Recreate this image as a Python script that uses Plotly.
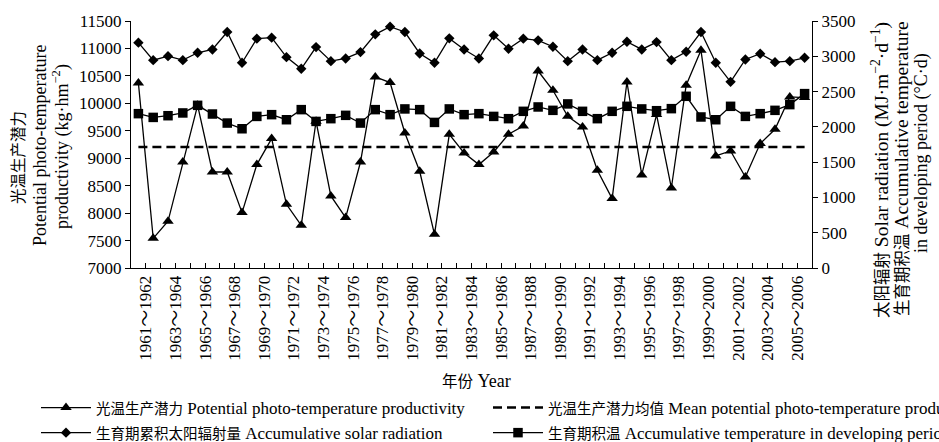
import plotly.graph_objects as go

# ---------------- data ----------------
years = list(range(1961, 2007))  # 46 yearly points

tick_labels = ["1961～1962", "1963～1964", "1965～1966", "1967～1968", "1969～1970",
               "1971～1972", "1973～1974", "1975～1976", "1977～1978", "1979～1980",
               "1981～1982", "1983～1984", "1985～1986", "1987～1988", "1989～1990",
               "1991～1992", "1993～1994", "1995～1996", "1997～1998", "1999～2000",
               "2001～2002", "2003～2004", "2005～2006"]

productivity = [10370, 7541, 7851, 8931, 9964, 8749, 8749, 8009, 8884, 9358,
                8161, 7778, 9673, 8312, 7918, 8931, 10480, 10378, 9460, 8762,
                7614, 9436, 9095, 8884, 9114, 9436, 9587, 10589, 10238, 9764,
                9569, 8780, 8264, 10389, 8695, 9795, 8458, 10329, 10966, 9041,
                9132, 8658, 9267, 9527, 10116, 10105]

mean_productivity = 9205

solar_radiation = [3193, 2945, 3002, 2945, 3050, 3097, 3344, 2908, 3250, 3264,
                   2988, 2823, 3130, 2931, 2969, 3059, 3311, 3420, 3344, 3040,
                   2908, 3254, 3097, 2969, 3297, 3107, 3250, 3226, 3136, 2931,
                   3097, 2945, 3050, 3207, 3097, 3201, 2945, 3064, 3344, 2908,
                   2638, 2955, 3036, 2917, 2931, 2979]

accum_temperature = [2187, 2134, 2158, 2197, 2305, 2182, 2054, 1973, 2148, 2173,
                     2101, 2244, 2077, 2116, 2163, 2054, 2244, 2173, 2254, 2244,
                     2063, 2254, 2173, 2187, 2148, 2116, 2220, 2282, 2234, 2325,
                     2220, 2116, 2220, 2291, 2254, 2229, 2258, 2433, 2140, 2101,
                     2291, 2148, 2187, 2234, 2315, 2471]

names = [
    '<span style="font-size:14.5px">光温生产潜力</span> Potential photo-temperature productivity',
    '<span style="font-size:14.5px">光温生产潜力均值</span> Mean potential photo-temperature productivity',
    '<span style="font-size:14.5px">生育期累积太阳辐射量</span> Accumulative solar radiation',
    '<span style="font-size:14.5px">生育期积温</span> Accumulative temperature in developing period',
]

# ---------------- figure ----------------
FONT = "Liberation Serif, Times New Roman, Noto Sans CJK SC, serif"
W, H = 939, 442
L, R, T, B = 131, 127, 21, 174
PW, PH = W - L - R, H - T - B

xi = list(range(len(years)))

fig = go.Figure()
fig.add_trace(go.Scatter(
    x=xi, y=productivity, name=names[0], mode="lines+markers",
    line=dict(color="black", width=1.3),
    marker=dict(symbol="triangle-up", size=10, color="black"),
    legend="legend"))
fig.add_trace(go.Scatter(
    x=xi, y=solar_radiation, name=names[2], mode="lines+markers", yaxis="y2",
    line=dict(color="black", width=1.3),
    marker=dict(symbol="diamond", size=8, color="black"),
    legend="legend"))
fig.add_trace(go.Scatter(
    x=xi, y=[mean_productivity] * len(xi), name=names[1], mode="lines",
    line=dict(color="black", width=2.5, dash="9px,5px"),
    legend="legend2"))
fig.add_trace(go.Scatter(
    x=xi, y=accum_temperature, name=names[3], mode="lines+markers", yaxis="y2",
    line=dict(color="black", width=1.3),
    marker=dict(symbol="square", size=9.5, color="black"),
    legend="legend2"))

# tick marks at every category boundary, labels on every other one
tickvals = [k + 0.5 for k in range(len(years) - 1)]
ticktext = [tick_labels[k // 2] if k % 2 == 0 else "" for k in range(len(tickvals))]


def px2x(px):
    return (px - L) / PW


def py2y(py):
    return (H - B - py) / PH


legend_common = dict(
    orientation="v", xref="container", yref="container",
    xanchor="left", yanchor="top", itemwidth=50,
    font=dict(family=FONT, size=17, color="black"),
    bgcolor="rgba(0,0,0,0)", tracegroupgap=0, traceorder="normal",
)

fig.update_layout(
    width=W, height=H,
    margin=dict(l=L, r=R, t=T, b=B, autoexpand=False),
    paper_bgcolor="white", plot_bgcolor="white",
    font=dict(family=FONT, size=17, color="black"),
    showlegend=True,
    xaxis=dict(
        range=[-0.5, len(years) - 0.5], tickmode="array",
        tickvals=tickvals, ticktext=ticktext, tickangle=-90,
        ticks="inside", ticklen=5, tickwidth=1, tickcolor="black",
        showline=True, linecolor="black", linewidth=1,
        showgrid=False, zeroline=False, automargin=False,
        tickfont=dict(family=FONT, size=17),
    ),
    yaxis=dict(
        range=[7000, 11500], dtick=500, tick0=7000, tickformat="d",
        ticks="outside", ticklen=5, tickcolor="black",
        showline=True, linecolor="black", linewidth=1,
        showgrid=False, zeroline=False, automargin=False,
        tickfont=dict(family=FONT, size=17),
    ),
    yaxis2=dict(
        range=[0, 3500], dtick=500, tick0=0, overlaying="y", side="right",
        tickformat="d",
        ticks="outside", ticklen=5, tickcolor="black",
        showline=True, linecolor="black", linewidth=1,
        showgrid=False, zeroline=False, automargin=False,
        tickfont=dict(family=FONT, size=17),
    ),
    legend=dict(x=36 / W, y=1 - 390 / H, **legend_common),
    legend2=dict(x=488 / W, y=1 - 390 / H, **legend_common),
)

ann_font = dict(family=FONT, size=18, color="black")
ann_font_r = dict(family=FONT, size=19.5, color="black")
ann_font_r3 = dict(family=FONT, size=18, color="black")
annotations = [
    # left axis title
    dict(text='<span style="font-size:15.5px">光温生产潜力</span>', x=px2x(18), y=py2y(157), font=ann_font),
    dict(text="Potential photo-temperature", x=px2x(40), y=py2y(145), font=ann_font),
    dict(text="productivity (kg·hm<sup>−2</sup>)", x=px2x(61), y=py2y(147), font=ann_font),
    # right axis title
    dict(text='<span style="font-size:16.5px">太阳辐射</span> Solar radiation (MJ·m<sup>−2</sup>·d<sup>−1</sup>)',
         x=px2x(880), y=py2y(170), font=ann_font_r),
    dict(text='<span style="font-size:16.5px">生育期积温</span> Accumulative temperature',
         x=px2x(901), y=py2y(168), font=ann_font_r),
    dict(text="in developing period (°C·d)", x=px2x(922), y=py2y(153), font=ann_font_r3),
]
for a in annotations:
    fig.add_annotation(xref="paper", yref="paper", showarrow=False, textangle=-90,
                       xanchor="center", yanchor="middle", **a)

fig.add_annotation(xref="paper", yref="paper", showarrow=False,
                   text='<span style="font-size:15.5px">年份</span> Year',
                   x=px2x(477), y=py2y(381), xanchor="center", yanchor="middle",
                   font=ann_font)

fig.write_html("out.html", config={"displayModeBar": False},
               post_script="document.body.style.margin='0';")
